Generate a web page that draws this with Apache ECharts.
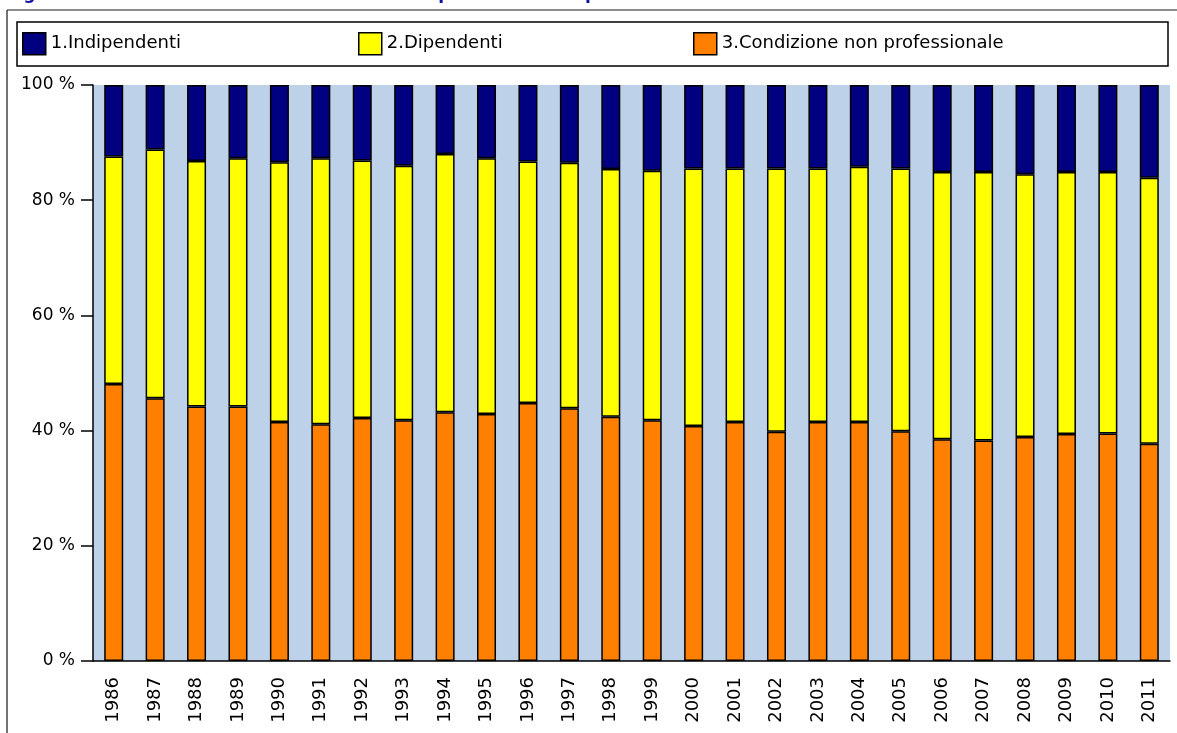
<!DOCTYPE html>
<html>
<head>
<meta charset="utf-8">
<script src="https://cdn.jsdelivr.net/npm/echarts@6/dist/echarts.min.js"></script>
<style>
html,body{margin:0;padding:0;background:#fff;}
#chart{width:1177px;height:733px;}
</style>
</head>
<body>
<div id="chart"></div>
<script>
const titleText = 'Fig. 4 - Reddito familiare netto medio annuo per condizione professionale';
const categories = ['1986','1987','1988','1989','1990','1991','1992','1993','1994','1995','1996','1997','1998','1999','2000','2001','2002','2003','2004','2005','2006','2007','2008','2009','2010','2011'];
const seriesNames = ['1.Indipendenti','2.Dipendenti','3.Condizione non professionale'];
const indipendenti = [12.4,11.2,13.2,12.7,13.4,12.7,13.1,14.0,12.0,12.7,13.3,13.5,14.6,14.9,14.5,14.5,14.5,14.5,14.2,14.5,15.1,15.1,15.5,15.1,15.1,16.1];
const dipendenti = [39.5,43.2,42.6,43.1,45.1,46.2,44.7,44.2,44.8,44.4,41.9,42.6,43.0,43.3,44.7,44.0,45.7,44.0,44.3,45.6,46.4,46.6,45.6,45.5,45.4,46.2];
const nonProfessionale = [48.1,45.6,44.2,44.2,41.5,41.1,42.2,41.8,43.2,42.9,44.8,43.9,42.4,41.8,40.8,41.5,39.8,41.5,41.5,39.9,38.5,38.3,38.9,39.4,39.5,37.7];
const yTicks = [0,20,40,60,80,100];

const chart = echarts.init(document.getElementById('chart'), null, {renderer:'canvas'});
const FONT = '"DejaVu Sans", sans-serif';
const colors = ['#000080','#ffff00','#ff8000'];
const legendLeft = [22, 358, 693];

const barStyle = (c) => ({color:c, borderColor:'#000', borderWidth:1.5});

chart.setOption({
  animation:false,
  textStyle:{fontFamily:FONT},
  graphic:[
    {type:'line', shape:{x1:7,y1:10,x2:1177,y2:10}, style:{stroke:'#666',lineWidth:1.5}, silent:true},
    {type:'line', shape:{x1:7,y1:10,x2:7,y2:733}, style:{stroke:'#444',lineWidth:1.5}, silent:true},
    {type:'rect', shape:{x:17,y:22,width:1151,height:44}, style:{fill:'none',stroke:'#000',lineWidth:1.5}, silent:true},
    {type:'text', left:6, top:-14, style:{text:titleText, fill:'#1010a0', font:'bold 17px ' + FONT}, silent:true}
  ],
  legend: seriesNames.map((n,i)=>({
    data:[n], left:legendLeft[i], top:32, itemWidth:23, itemHeight:22, itemGap:0,
    icon:'rect',
    textStyle:{fontSize:18, color:'#000', fontFamily:FONT}, selectedMode:false, padding:0,
    itemStyle:{borderColor:'#000', borderWidth:1.5}
  })),
  grid:{left:93, right:7, top:85, bottom:72, show:true, backgroundColor:'#bdd2e8', borderWidth:0},
  xAxis:{
    type:'category', data:categories,
    axisLine:{lineStyle:{color:'#000', width:1.5}},
    axisTick:{length:12, lineStyle:{color:'#000', width:1.5}},
    axisLabel:{rotate:90, fontSize:18, color:'#000', margin:16, interval:0, fontFamily:FONT}
  },
  yAxis:{
    type:'value', min:yTicks[0], max:yTicks[yTicks.length-1], interval:20,
    splitLine:{show:false},
    axisLine:{show:true, lineStyle:{color:'#000', width:1.5}},
    axisTick:{show:true, length:12, lineStyle:{color:'#000', width:1.5}},
    axisLabel:{formatter:'{value} %', fontSize:17, color:'#000', margin:18, fontFamily:FONT}
  },
  series:[
    {name:seriesNames[2], type:'bar', stack:'t', data:nonProfessionale, barWidth:19, itemStyle:barStyle(colors[2])},
    {name:seriesNames[1], type:'bar', stack:'t', data:dipendenti, barWidth:19, itemStyle:barStyle(colors[1])},
    {name:seriesNames[0], type:'bar', stack:'t', data:indipendenti, barWidth:19, itemStyle:barStyle(colors[0])}
  ]
});
</script>
</body>
</html>
